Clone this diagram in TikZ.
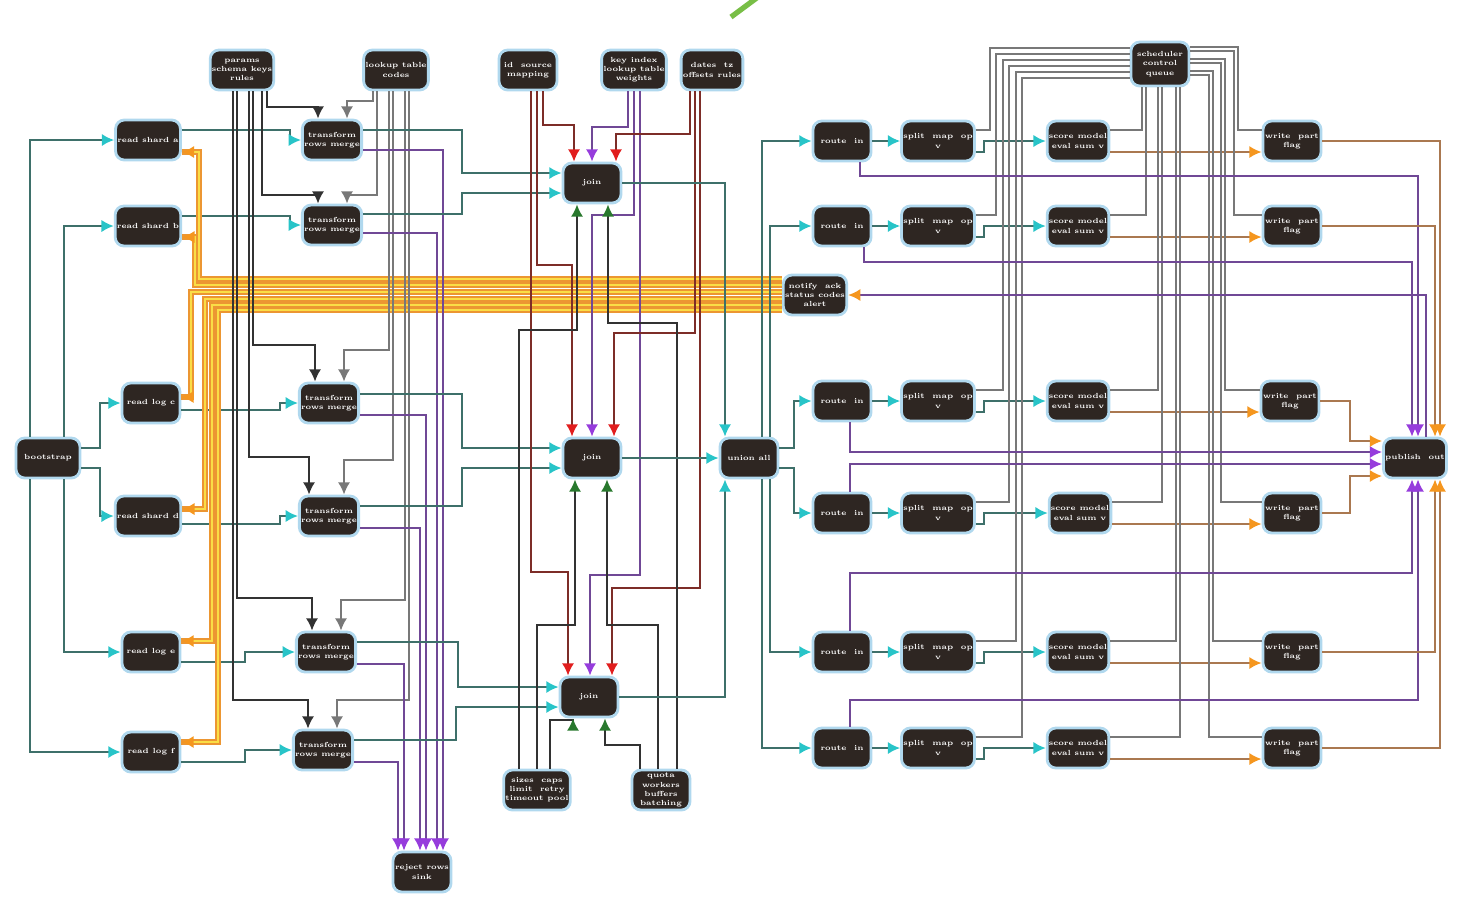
\documentclass[tikz,border=0pt]{standalone}
\usepackage{tikz}
\usetikzlibrary{arrows.meta,positioning}
\definecolor{BoxFill}{RGB}{46, 38, 34}
\definecolor{BoxEdge}{RGB}{176, 216, 238}
\definecolor{LinkTeal}{RGB}{62, 112, 106}
\definecolor{TipCyan}{RGB}{40, 196, 200}
\definecolor{LinkDark}{RGB}{50, 50, 50}
\definecolor{LinkGray}{RGB}{120, 120, 120}
\definecolor{LinkPurple}{RGB}{112, 72, 150}
\definecolor{TipPurple}{RGB}{150, 60, 220}
\definecolor{LinkRed}{RGB}{125, 45, 40}
\definecolor{TipRed}{RGB}{225, 30, 30}
\definecolor{TipGreen}{RGB}{40, 120, 45}
\definecolor{LinkOrange}{RGB}{236, 150, 50}
\definecolor{LinkYellow}{RGB}{250, 222, 70}
\definecolor{LinkBrown}{RGB}{170, 120, 80}
\definecolor{TipOrange}{RGB}{245, 150, 30}
\definecolor{LeafGreen}{RGB}{120, 190, 70}

\begin{document}
\begin{tikzpicture}[x=0.01cm, y=-0.01cm,
  box/.style={draw=BoxEdge, line width=0.8pt, rounded corners=2.5pt, fill=BoxFill,
              text=white, align=center, inner sep=0.5pt, minimum width=0.58cm, minimum height=0.40cm,
              font=\fontsize{2.1}{2.6}\selectfont\bfseries},
  tl/.style={draw=LinkTeal, line width=0.6pt, -{Latex[length=3.5pt,width=3.5pt,color=TipCyan]}},
  dk/.style={draw=LinkDark, line width=0.6pt, -{Latex[length=3.5pt,width=3.5pt]}},
  dg/.style={draw=LinkGray, line width=0.6pt, -{Latex[length=3.5pt,width=3.5pt]}},
  gy/.style={draw=LinkGray, line width=0.6pt},
  pu/.style={draw=LinkPurple, line width=0.6pt, -{Latex[length=3.5pt,width=3.5pt,color=TipPurple]}},
  rd/.style={draw=LinkRed, line width=0.6pt, -{Latex[length=3.5pt,width=3.5pt,color=TipRed]}},
  gn/.style={draw=LinkDark, line width=0.6pt, -{Latex[length=3.5pt,width=3.5pt,color=TipGreen]}},
  og/.style={draw=LinkYellow, line width=0.6pt, preaction={draw=LinkOrange, line width=1.5pt, -},
             -{Latex[length=3.5pt,width=3.5pt,color=TipOrange]}},
  ob/.style={draw=LinkBrown, line width=0.6pt, -{Latex[length=3.5pt,width=3.5pt,color=TipOrange]}}]
  \useasboundingbox (0,0) rectangle (1460,923);
  \fill[white] (0,0) rectangle (1460,923);
  \draw[LeafGreen, line width=1.5pt] (731,17) -- (758,-3);

  % --- left side ---
  \node[box, minimum width=0.64cm] (start) at (48,458) {bootstrap};
  \node[box] (pre1) at (148,140) {read shard a};
  \node[box] (pre2) at (148,226) {read shard b};
  \node[box] (pre3) at (151,403) {read log c};
  \node[box] (pre4) at (148,516) {read shard d};
  \node[box] (pre5) at (151,652) {read log e};
  \node[box] (pre6) at (151,752) {read log f};

  \node[box] (cfg1) at (242,70) {params\\schema keys\\rules};
  \node[box] (cfg2) at (396,70) {lookup table\\codes};
  \node[box] (job1) at (332,140) {transform\\rows merge};
  \node[box] (job2) at (332,225) {transform\\rows merge};
  \node[box] (job3) at (329,403) {transform\\rows merge};
  \node[box] (job4) at (329,516) {transform\\rows merge};
  \node[box] (job5) at (326,652) {transform\\rows merge};
  \node[box] (job6) at (323,750) {transform\\rows merge};
  \node[box] (sink) at (422,872) {reject rows\\sink};

  % --- centre ---
  \node[box] (src1) at (528,70) {id \ source\\mapping};
  \node[box] (src2) at (634,70) {key index\\lookup table\\weights};
  \node[box] (src3) at (712,70) {dates \ tz\\offsets rules};
  \node[box] (stage1) at (592,183) {join};
  \node[box] (stage2) at (592,458) {join};
  \node[box] (stage3) at (589,697) {join};
  \node[box] (aux1) at (537,790) {sizes \ caps\\limit \ retry\\timeout pool};
  \node[box] (aux2) at (661,790) {quota\\workers\\buffers\\batching};
  \node[box] (merge) at (749,458) {union all};
  \node[box] (hub) at (815,295) {notify \ ack\\status codes\\alert};

  % --- right grid ---
  \node[box] (in1) at (842,141) {route \ in};
  \node[box] (in2) at (842,226) {route \ in};
  \node[box] (in3) at (842,401) {route \ in};
  \node[box] (in4) at (842,513) {route \ in};
  \node[box] (in5) at (842,652) {route \ in};
  \node[box] (in6) at (842,748) {route \ in};
  \node[box] (fork1) at (938,141) {split \ map \ op\\v};
  \node[box] (fork2) at (938,226) {split \ map \ op\\v};
  \node[box] (fork3) at (938,401) {split \ map \ op\\v};
  \node[box] (fork4) at (938,513) {split \ map \ op\\v};
  \node[box] (fork5) at (938,652) {split \ map \ op\\v};
  \node[box] (fork6) at (938,748) {split \ map \ op\\v};
  \node[box] (calc1) at (1078,141) {score model\\eval sum v};
  \node[box] (calc2) at (1078,226) {score model\\eval sum v};
  \node[box] (calc3) at (1078,401) {score model\\eval sum v};
  \node[box] (calc4) at (1080,513) {score model\\eval sum v};
  \node[box] (calc5) at (1078,652) {score model\\eval sum v};
  \node[box] (calc6) at (1078,748) {score model\\eval sum v};
  \node[box] (out1) at (1292,141) {write \ part\\flag};
  \node[box] (out2) at (1292,226) {write \ part\\flag};
  \node[box] (out3) at (1290,401) {write \ part\\flag};
  \node[box] (out4) at (1292,513) {write \ part\\flag};
  \node[box] (out5) at (1292,652) {write \ part\\flag};
  \node[box] (out6) at (1292,748) {write \ part\\flag};
  \node[box, minimum height=0.44cm] (ctl) at (1160,64) {scheduler\\control\\queue};
  \node[box] (finish) at (1415,458) {publish \ out};

  % --- start fan-out ---
  \draw[tl] (start.north -| 30,0) |- (pre1.west);
  \draw[tl] (start.north -| 64,0) |- (pre2.west);
  \draw[tl] (start.east |- 0,448) -- (100,448) |- (pre3.west);
  \draw[tl] (start.east |- 0,468) -- (100,468) |- (pre4.west);
  \draw[tl] (start.south -| 64,0) |- (pre5.west);
  \draw[tl] (start.south -| 30,0) |- (pre6.west);

  % --- readers into jobs ---
  \draw[tl] (pre1.east |- 0,130) -- (290,130) |- (job1.west);
  \draw[tl] (pre2.east |- 0,216) -- (290,216) |- (job2.west);
  \draw[tl] (pre3.east |- 0,410) -- (280,410) |- (job3.west);
  \draw[tl] (pre4.east |- 0,524) -- (280,524) |- (job4.west);
  \draw[tl] (pre5.east |- 0,662) -- (245,662) |- (job5.west);
  \draw[tl] (pre6.east |- 0,762) -- (245,762) |- (job6.west);

  % --- hub back to readers ---
  \draw[og] (hub.west |- 0,279) -- (199,279) |- (pre1.east |- 0,152);
  \draw[og] (hub.west |- 0,285) -- (195,285) |- (pre2.east |- 0,237);
  \draw[og] (hub.west |- 0,292) -- (191,292) |- (pre3.east |- 0,397);
  \draw[og] (hub.west |- 0,299) -- (205,299) |- (pre4.east |- 0,509);
  \draw[og] (hub.west |- 0,305) -- (212,305) |- (pre5.east |- 0,641);
  \draw[og] (hub.west |- 0,310) -- (218,310) |- (pre6.east |- 0,742);

  % --- config into jobs ---
  \draw[dk] (cfg1.south -| 267,0) |- (318,107) -- (job1.north -| 318,0);
  \draw[dk] (cfg1.south -| 262,0) |- (318,195) -- (job2.north -| 318,0);
  \draw[dk] (cfg1.south -| 253,0) |- (315,345) -- (job3.north -| 315,0);
  \draw[dk] (cfg1.south -| 249,0) |- (309,457) -- (job4.north -| 309,0);
  \draw[dk] (cfg1.south -| 237,0) |- (312,598) -- (job5.north -| 312,0);
  \draw[dk] (cfg1.south -| 233,0) |- (308,700) -- (job6.north -| 308,0);
  \draw[dg] (cfg2.south -| 373,0) |- (347,101) -- (job1.north -| 347,0);
  \draw[dg] (cfg2.south -| 377,0) |- (347,195) -- (job2.north -| 347,0);
  \draw[dg] (cfg2.south -| 389,0) |- (344,350) -- (job3.north -| 344,0);
  \draw[dg] (cfg2.south -| 393,0) |- (344,460) -- (job4.north -| 344,0);
  \draw[dg] (cfg2.south -| 405,0) |- (341,600) -- (job5.north -| 341,0);
  \draw[dg] (cfg2.south -| 409,0) |- (337,700) -- (job6.north -| 337,0);

  % --- rejects ---
  \draw[pu] (job1.east |- 0,150) -- (443,150) -- (sink.north -| 443,0);
  \draw[pu] (job2.east |- 0,233) -- (437,233) -- (sink.north -| 437,0);
  \draw[pu] (job3.east |- 0,415) -- (426,415) -- (sink.north -| 426,0);
  \draw[pu] (job4.east |- 0,528) -- (420,528) -- (sink.north -| 420,0);
  \draw[pu] (job5.east |- 0,664) -- (404,664) -- (sink.north -| 404,0);
  \draw[pu] (job6.east |- 0,762) -- (398,762) -- (sink.north -| 398,0);

  % --- jobs into joins ---
  \draw[tl] (job1.east |- 0,130) -- (462,130) |- (stage1.west |- 0,173);
  \draw[tl] (job2.east |- 0,214) -- (462,214) |- (stage1.west |- 0,193);
  \draw[tl] (job3.east |- 0,394) -- (462,394) |- (stage2.west |- 0,448);
  \draw[tl] (job4.east |- 0,506) -- (462,506) |- (stage2.west |- 0,468);
  \draw[tl] (job5.east |- 0,642) -- (458,642) |- (stage3.west |- 0,687);
  \draw[tl] (job6.east |- 0,740) -- (456,740) |- (stage3.west |- 0,707);

  % --- sources into joins ---
  \draw[rd] (src1.south -| 543,0) |- (574,125) -- (stage1.north -| 574,0);
  \draw[rd] (src1.south -| 537,0) |- (572,265) -- (stage2.north -| 572,0);
  \draw[rd] (src1.south -| 531,0) |- (568,572) -- (stage3.north -| 568,0);
  \draw[pu] (src2.south -| 628,0) |- (592,127) -- (stage1.north -| 592,0);
  \draw[pu] (src2.south -| 634,0) |- (592,215) -- (stage2.north -| 592,0);
  \draw[pu] (src2.south -| 640,0) |- (590,575) -- (stage3.north -| 590,0);
  \draw[rd] (src3.south -| 690,0) |- (616,134) -- (stage1.north -| 616,0);
  \draw[rd] (src3.south -| 695,0) |- (614,333) -- (stage2.north -| 614,0);
  \draw[rd] (src3.south -| 700,0) |- (612,588) -- (stage3.north -| 612,0);

  % --- limits from below ---
  \draw[gn] (aux1.north -| 519,0) |- (577,330) -- (stage1.south -| 577,0);
  \draw[gn] (aux1.north -| 537,0) |- (575,625) -- (stage2.south -| 575,0);
  \draw[gn] (aux1.north -| 550,0) |- (573,720) -- (stage3.south -| 573,0);
  \draw[gn] (aux2.north -| 677,0) |- (608,323) -- (stage1.south -| 608,0);
  \draw[gn] (aux2.north -| 658,0) |- (607,625) -- (stage2.south -| 607,0);
  \draw[gn] (aux2.north -| 640,0) |- (605,745) -- (stage3.south -| 605,0);

  % --- joins into union ---
  \draw[tl] (stage1.east) -- (725,183) -- (merge.north -| 725,0);
  \draw[tl] (stage2.east) -- (merge.west);
  \draw[tl] (stage3.east) -- (725,697) -- (merge.south -| 725,0);

  % --- union out to routes ---
  \draw[tl] (merge.north -| 762,0) |- (in1.west);
  \draw[tl] (merge.north -| 770,0) |- (in2.west);
  \draw[tl] (merge.east |- 0,448) -- (794,448) |- (in3.west);
  \draw[tl] (merge.east |- 0,468) -- (794,468) |- (in4.west);
  \draw[tl] (merge.south -| 770,0) |- (in5.west);
  \draw[tl] (merge.south -| 762,0) |- (in6.west);

  % --- rows ---
  \draw[tl] (in1.east) -- (fork1.west);
  \draw[tl] (in2.east) -- (fork2.west);
  \draw[tl] (in3.east) -- (fork3.west);
  \draw[tl] (in4.east) -- (fork4.west);
  \draw[tl] (in5.east) -- (fork5.west);
  \draw[tl] (in6.east) -- (fork6.west);
  \draw[tl] (fork1.east |- 0,152) -- (984,152) |- (calc1.west);
  \draw[tl] (fork2.east |- 0,237) -- (984,237) |- (calc2.west);
  \draw[tl] (fork3.east |- 0,412) -- (984,412) |- (calc3.west);
  \draw[tl] (fork4.east |- 0,524) -- (984,524) |- (calc4.west);
  \draw[tl] (fork5.east |- 0,663) -- (984,663) |- (calc5.west);
  \draw[tl] (fork6.east |- 0,759) -- (984,759) |- (calc6.west);
  \draw[ob] (calc1.east |- 0,152) -- (out1.west |- 0,152);
  \draw[ob] (calc2.east |- 0,237) -- (out2.west |- 0,237);
  \draw[ob] (calc3.east |- 0,412) -- (out3.west |- 0,412);
  \draw[ob] (calc4.east |- 0,524) -- (out4.west |- 0,524);
  \draw[ob] (calc5.east |- 0,663) -- (out5.west |- 0,663);
  \draw[ob] (calc6.east |- 0,759) -- (out6.west |- 0,759);

  % --- scheduler wiring ---
  \draw[gy] (fork1.east |- 0,130) -- (990,130) |- (ctl.west |- 0,48);
  \draw[gy] (fork2.east |- 0,215) -- (996,215) |- (ctl.west |- 0,54);
  \draw[gy] (fork3.east |- 0,390) -- (1003,390) |- (ctl.west |- 0,60);
  \draw[gy] (fork4.east |- 0,502) -- (1009,502) |- (ctl.west |- 0,66);
  \draw[gy] (fork5.east |- 0,641) -- (1016,641) |- (ctl.west |- 0,72);
  \draw[gy] (fork6.east |- 0,737) -- (1022,737) |- (ctl.west |- 0,78);
  \draw[gy] (calc1.east |- 0,130) -- (1142,130) -- (ctl.south -| 1142,0);
  \draw[gy] (calc2.east |- 0,215) -- (1146,215) -- (ctl.south -| 1146,0);
  \draw[gy] (calc3.east |- 0,390) -- (1158,390) -- (ctl.south -| 1158,0);
  \draw[gy] (calc4.east |- 0,502) -- (1162,502) -- (ctl.south -| 1162,0);
  \draw[gy] (calc5.east |- 0,641) -- (1176,641) -- (ctl.south -| 1176,0);
  \draw[gy] (calc6.east |- 0,737) -- (1180,737) -- (ctl.south -| 1180,0);
  \draw[gy] (ctl.east |- 0,47) -- (1238,47) |- (out1.west |- 0,130);
  \draw[gy] (ctl.east |- 0,51) -- (1234,51) |- (out2.west |- 0,215);
  \draw[gy] (ctl.east |- 0,59) -- (1225,59) |- (out3.west |- 0,390);
  \draw[gy] (ctl.east |- 0,63) -- (1221,63) |- (out4.west |- 0,502);
  \draw[gy] (ctl.east |- 0,71) -- (1213,71) |- (out5.west |- 0,641);
  \draw[gy] (ctl.east |- 0,75) -- (1209,75) |- (out6.west |- 0,737);

  % --- into publish ---
  \draw[pu] (in1.south -| 860,0) |- (1418,176) -- (finish.north -| 1418,0);
  \draw[pu] (in2.south -| 864,0) |- (1412,262) -- (finish.north -| 1412,0);
  \draw[pu] (in3.south -| 850,0) |- (finish.west |- 0,452);
  \draw[pu] (in4.north -| 850,0) |- (finish.west |- 0,464);
  \draw[pu] (in5.north -| 850,0) |- (1412,573) -- (finish.south -| 1412,0);
  \draw[pu] (in6.north -| 850,0) |- (1418,700) -- (finish.south -| 1418,0);
  \draw[ob] (out1.east) -- (1440,141) -- (finish.north -| 1440,0);
  \draw[ob] (out2.east) -- (1435,226) -- (finish.north -| 1435,0);
  \draw[ob] (out3.east) -- (1350,401) |- (finish.west |- 0,441);
  \draw[ob] (out4.east) -- (1350,513) |- (finish.west |- 0,476);
  \draw[ob] (out5.east) -- (1435,652) -- (finish.south -| 1435,0);
  \draw[ob] (out6.east) -- (1440,748) -- (finish.south -| 1440,0);
  \draw[pu, -{Latex[length=3.5pt,width=3.5pt,color=TipOrange]}] (finish.north -| 1426,0) |- (hub.east);
\end{tikzpicture}
\end{document}
